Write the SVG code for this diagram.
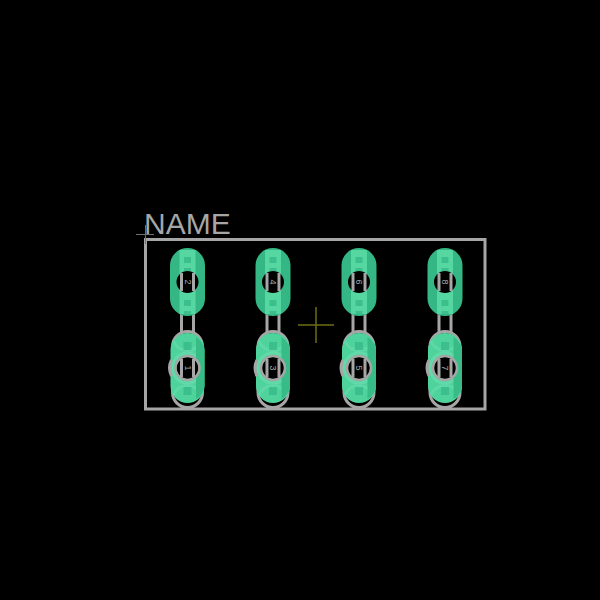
<svg xmlns="http://www.w3.org/2000/svg" width="600" height="600" viewBox="0 0 600 600">
<style>
.g{fill:none;stroke:#a6a6a6;stroke-width:3}
.pad{fill:#34b784}
.strip{fill:#56d7a2}
.sq{fill:#3cbf8c}
.hole{fill:#000}
.t{font-family:"Liberation Sans",Arial,sans-serif;font-size:9px;fill:#a6a6a6;text-anchor:middle}
</style>
<defs>
<g id="top">
<path class="g" d="M-6 30V52M6 30V52"/>
<rect class="pad" x="-17.500" y="-34" width="35" height="68" rx="17.500"/>
<rect class="strip" x="-8" y="-32" width="16" height="64"/>
<rect class="sq" x="-3.500" y="-25" width="7" height="6"/>
<rect class="sq" x="-3.500" y="-14" width="7" height="3"/>
<rect class="sq" x="-3.500" y="18" width="7" height="6"/>
<rect class="sq" x="-3.500" y="29" width="7" height="3"/>
<circle class="hole" r="11"/>
<path class="g" d="M-6 -9V9M6 -9V9"/>
</g>
<g id="bot">
<rect x="-15" y="-36.500" width="30" height="76" rx="15" class="g"/>
<rect fill="#4fd39d" x="-17" y="-35" width="34" height="70" rx="17"/>
<path fill="none" stroke="#5fd8a8" stroke-width="3" d="M-14 -27A15 15 0 0 0 14 -27M-14 27A15 15 0 0 1 14 27"/>
<circle r="15" fill="none" stroke="#62d9a9" stroke-width="3"/>
<path fill="#37bb87" d="M8.500 -31A17 17 0 0 1 17 -18V18A17 17 0 0 1 8.500 31Z"/>
<rect class="sq" x="-4" y="-26" width="8" height="8"/>
<rect class="sq" x="-4" y="19" width="8" height="8"/>
<path class="g" d="M-16 -8A18 18 0 0 0 -16 8"/>
<circle class="hole" r="11"/>
<circle r="12" fill="none" stroke="#a6a6a6" stroke-width="2.500"/>
<path class="g" d="M-6 -9V9M6 -9V9"/>
</g>
</defs>
<rect id="background" width="600" height="600" fill="#000"/>
<g id="connectors">
<path fill="none" stroke="#a6a6a6" stroke-width="3" d="M145.500 239.500H485V409H145.500Z"/>
<path fill="none" stroke="#6f6f6f" stroke-width="1" d="M136 234.500H154M145.500 225V244"/>
<path fill="none" stroke="#6e6e14" stroke-width="1.500" d="M298 325H334M316 307V343"/>
</g>
<text x="144" y="234" font-family="Liberation Sans,Arial,sans-serif" font-size="30" fill="#a6a6a6">NAME</text>
<g id="pad2" transform="translate(187.500 282)"><use href="#top"/><text class="t" transform="rotate(90) translate(0 3)">2</text></g>
<g id="pad4" transform="translate(273 282)"><use href="#top"/><text class="t" transform="rotate(90) translate(0 3)">4</text></g>
<g id="pad6" transform="translate(359 282)"><use href="#top"/><text class="t" transform="rotate(90) translate(0 3)">6</text></g>
<g id="pad8" transform="translate(445 282)"><use href="#top"/><text class="t" transform="rotate(90) translate(0 3)">8</text></g>
<g id="pad1" transform="translate(187.500 368)"><use href="#bot"/><text class="t" transform="rotate(90) translate(0 3)">1</text></g>
<g id="pad3" transform="translate(273 368)"><use href="#bot"/><text class="t" transform="rotate(90) translate(0 3)">3</text></g>
<g id="pad5" transform="translate(359 368)"><use href="#bot"/><text class="t" transform="rotate(90) translate(0 3)">5</text></g>
<g id="pad7" transform="translate(445 368)"><use href="#bot"/><text class="t" transform="rotate(90) translate(0 3)">7</text></g>
</svg>
